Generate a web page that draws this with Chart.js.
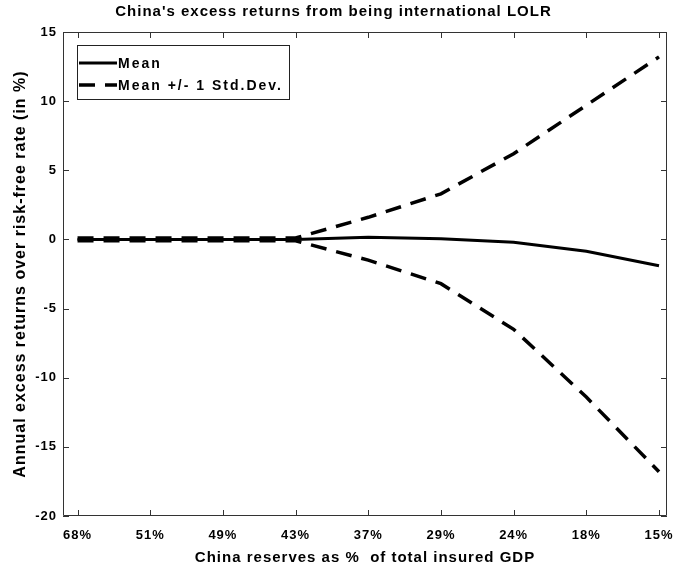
<!DOCTYPE html>
<html>
<head>
<meta charset="utf-8">
<script src="https://cdn.jsdelivr.net/npm/chart.js@4.4.1/dist/chart.umd.min.js"></script>
<style>
  html, body { margin: 0; padding: 0; background: #fff; }
  #wrap { width: 673px; height: 569px; }
</style>
</head>
<body>
<div id="wrap"><canvas id="c" width="673" height="569"></canvas></div>
<script>
// Reserve share categories (China reserves as % of total insured GDP)
const reserveLabels = ['68%', '51%', '49%', '43%', '37%', '29%', '24%', '18%', '15%'];
// Annual excess returns over the risk-free rate, in %
const meanReturns  = [0, 0, 0, 0, 0.15, 0.05, -0.2, -0.85, -1.9];
const upperReturns = [0.1, 0.1, 0.1, 0.1, 1.6, 3.3, 6.2, 9.7, 13.2];
const lowerReturns = [-0.1, -0.1, -0.1, -0.1, -1.5, -3.2, -6.5, -11.4, -16.8];
const yTickValues = [-20, -15, -10, -5, 0, 5, 10, 15];

const FONT = 'Arial, "Liberation Sans", sans-serif';
const toPoints = arr => arr.map((v, i) => ({ x: i + 1, y: v }));

// Slightly spaced-out lettering for every text drawn on the canvas
const spacingPlugin = {
  id: 'spacing',
  beforeUpdate(chart) { chart.ctx.letterSpacing = '1px'; },
  beforeDraw(chart) { chart.ctx.letterSpacing = '1px'; }
};

// Box around the plot with inward tick marks on all four sides, plus the legend
const framePlugin = {
  id: 'frame',
  afterDraw(chart) {
    const { ctx, chartArea: a, scales: { x, y } } = chart;
    ctx.save();
    ctx.strokeStyle = '#333';
    ctx.lineWidth = 1;
    ctx.beginPath();
    ctx.rect(a.left + 0.5, a.top + 0.5, a.right - a.left - 1, a.bottom - a.top - 1);
    ctx.stroke();
    const tl = 6;
    ctx.beginPath();
    x.ticks.forEach(t => {
      const px = Math.round(x.getPixelForValue(t.value)) + 0.5;
      ctx.moveTo(px, a.bottom); ctx.lineTo(px, a.bottom - tl);
      ctx.moveTo(px, a.top); ctx.lineTo(px, a.top + tl);
    });
    y.ticks.forEach(t => {
      const py = Math.round(y.getPixelForValue(t.value)) + 0.5;
      ctx.moveTo(a.left, py); ctx.lineTo(a.left + tl, py);
      ctx.moveTo(a.right, py); ctx.lineTo(a.right - tl, py);
    });
    ctx.stroke();

    // legend
    const lx = a.left + 14, ly = a.top + 13, lw = 212, lh = 54;
    ctx.fillStyle = '#fff';
    ctx.fillRect(lx, ly, lw, lh);
    ctx.strokeStyle = '#222';
    ctx.strokeRect(lx + 0.5, ly + 0.5, lw, lh);
    const entries = [chart.data.datasets[0], chart.data.datasets[1]];
    ctx.font = 'bold 14px ' + FONT;
    ctx.letterSpacing = '2px';
    ctx.textBaseline = 'middle';
    ctx.fillStyle = '#000';
    entries.forEach((ds, i) => {
      const cy = ly + 18 + i * 22;
      ctx.strokeStyle = '#000';
      ctx.lineWidth = ds.borderWidth;
      ctx.setLineDash(ds.borderDash || []);
      ctx.beginPath();
      ctx.moveTo(lx + 2, cy); ctx.lineTo(lx + 40, cy);
      ctx.stroke();
      ctx.setLineDash([]);
      ctx.fillText(ds.label, lx + 41, cy + 1);
    });
    ctx.restore();
  }
};

new Chart(document.getElementById('c'), {
  type: 'line',
  data: {
    datasets: [
      { label: 'Mean', data: toPoints(meanReturns), borderColor: '#000', borderWidth: 3, pointRadius: 0, tension: 0 },
      { label: 'Mean +/- 1 Std.Dev.', data: toPoints(upperReturns), borderColor: '#000', borderWidth: 3.5, borderDash: [16, 10], pointRadius: 0, tension: 0 },
      { label: 'Mean - 1 Std.Dev.', data: toPoints(lowerReturns), borderColor: '#000', borderWidth: 3.5, borderDash: [16, 10], pointRadius: 0, tension: 0 }
    ]
  },
  options: {
    responsive: false,
    animation: false,
    layout: { padding: { left: 0, right: 6, top: 0, bottom: 0 } },
    plugins: {
      legend: { display: false },
      tooltip: { enabled: false },
      title: {
        display: true,
        text: "China's excess returns from being international LOLR",
        color: '#000',
        font: { family: FONT, size: 15, weight: 'bold', lineHeight: 1.2 },
        padding: { top: 3, bottom: 11 }
      }
    },
    scales: {
      x: {
        type: 'linear',
        min: 0.8,
        max: 9.11,
        grid: { display: false, drawTicks: false },
        border: { display: false },
        afterBuildTicks: s => { s.ticks = reserveLabels.map((_, i) => ({ value: i + 1 })); },
        afterFit: s => { s.height = 53; s.paddingLeft = 0; s.paddingRight = 0; },
        ticks: {
          color: '#000',
          padding: 12,
          maxRotation: 0,
          autoSkip: false,
          font: { family: FONT, size: 13, weight: 'bold' },
          callback: v => reserveLabels[v - 1]
        },
        title: {
          display: true,
          text: 'China reserves as %  of total insured GDP',
          color: '#000',
          font: { family: FONT, size: 15, weight: 'bold', lineHeight: 1.2 },
          padding: { top: 0, bottom: 2 }
        }
      },
      y: {
        min: -20,
        max: 15,
        grid: { display: false, drawTicks: false },
        border: { display: false },
        afterBuildTicks: s => { s.ticks = yTickValues.map(v => ({ value: v })); },
        afterFit: s => { s.width = 63; s.paddingTop = 0; s.paddingBottom = 0; },
        ticks: {
          color: '#000',
          padding: 6,
          font: { family: FONT, size: 13, weight: 'bold' }
        },
        title: {
          display: true,
          text: 'Annual excess returns over risk-free rate (in %)',
          color: '#000',
          font: { family: FONT, size: 16, weight: 'bold', lineHeight: 1.2 },
          padding: { top: 11, bottom: 0 }
        }
      }
    }
  },
  plugins: [spacingPlugin, framePlugin]
});
</script>
</body>
</html>
